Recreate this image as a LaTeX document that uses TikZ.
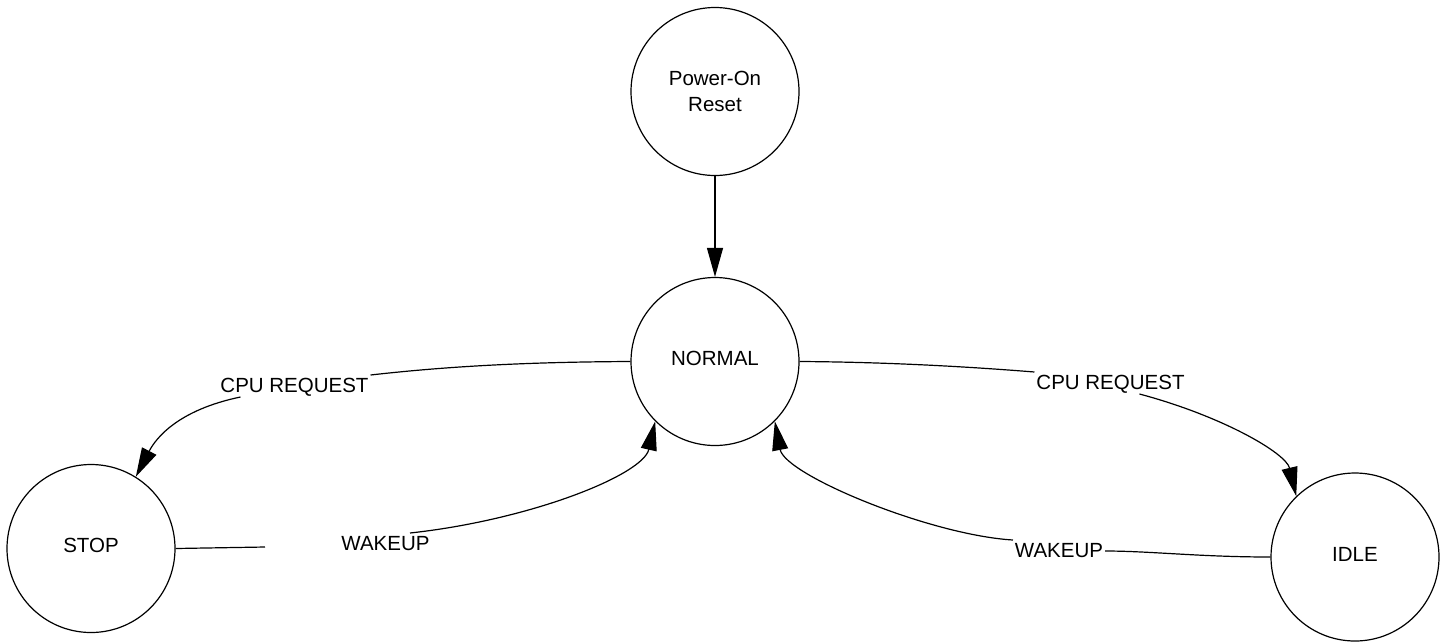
\documentclass[tikz,border=0pt]{standalone}
\usepackage{fontspec}
\setmainfont{Liberation Sans}
\usetikzlibrary{arrows.meta}
\begin{document}
\begin{tikzpicture}[x=1pt,y=-1pt,
  state/.style={circle,draw,line width=1.2pt,minimum size=168pt,inner sep=0pt,
    font=\fontsize{20.5}{26}\selectfont,text height=15pt,text depth=7pt},
  lab/.style={inner sep=2pt,outer sep=0pt,font=\fontsize{20.5}{26}\selectfont,
    text height=15pt,text depth=3pt,anchor=base},
  conn/.style={line width=1.2pt},
  arr/.style={conn,-{Triangle[length=29pt,width=16pt]}}]
\useasboundingbox (0,0) rectangle (1445,641);
\node[state,align=center,text height=,text depth=] (por) at (715,91.5) {Power-On\\Reset};
\node[state] (N) at (715,361.5) {NORMAL};
\node[state] (stop) at (91,548.5) {STOP};
\node[state] (idle) at (1355,557) {IDLE};
\node[lab] (lab1) at (294.5,392) {CPU REQUEST};
\node[lab] (lab2) at (1110.5,389) {CPU REQUEST};
\node[lab] (lab3) at (385.5,550) {WAKEUP};
\node[lab] (lab4) at (1059,557) {WAKEUP};
\coordinate (w1a) at (265,547);
\coordinate (w1b) at (410,533);
% Power-on
\draw[arr] (por) -- (N);
% NORMAL -> STOP
\draw[conn] (N.west) .. controls (530,362) and (450,366) .. (lab1.north east);
\draw[arr] ([xshift=22pt]lab1.south west) .. controls (178,410) and (156,438) .. (stop.58);
% NORMAL -> IDLE
\draw[conn] (N.east) .. controls (880,362) and (960,366) .. (lab2.north west);
\draw[arr] ([xshift=105pt]lab2.south west) .. controls (1222,416) and (1286,453) .. (idle.134);
% STOP -> NORMAL
\draw[conn] (stop.east) -- (w1a);
\draw[arr] (w1b) .. controls (530,520) and (643,475) .. (N.225);
% IDLE -> NORMAL
\draw[conn] (idle.west) .. controls (1200,557) and (1150,551) .. (lab4.east);
\draw[arr] (lab4.north west) .. controls (930,535) and (785,475) .. (N.315);
\end{tikzpicture}
\end{document}
